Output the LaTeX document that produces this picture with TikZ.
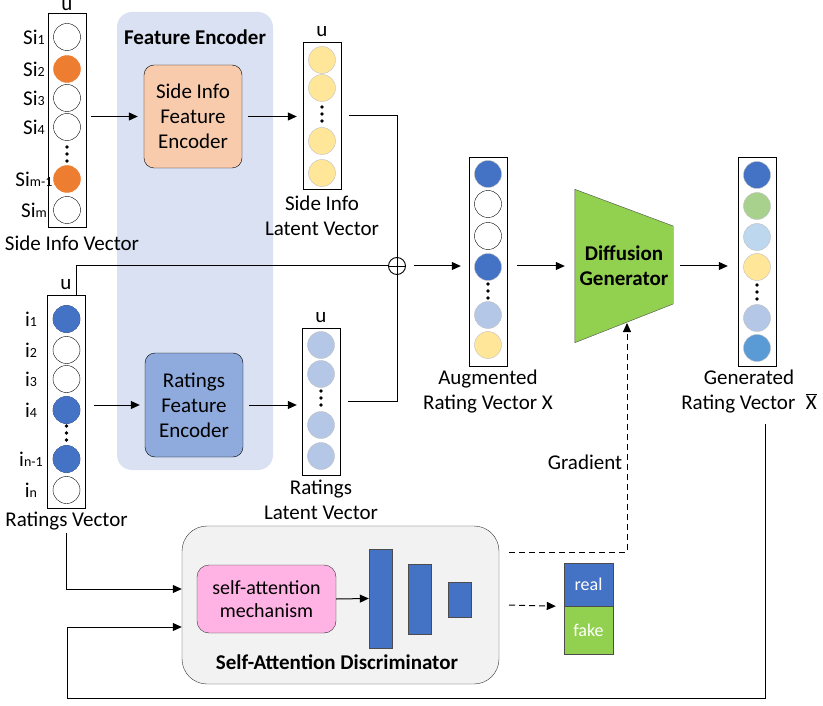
\documentclass[tikz,border=0pt]{standalone}
\usepackage{fontspec}
\setmainfont{Carlito}
\usetikzlibrary{arrows.meta, positioning}

\definecolor{feBg}{RGB}{218,225,242}
\definecolor{siEnc}{RGB}{248,203,173}
\definecolor{rtEnc}{RGB}{143,170,220}
\definecolor{oraDot}{RGB}{237,125,49}
\definecolor{bluDot}{RGB}{68,114,196}
\definecolor{lbluDot}{RGB}{180,199,231}
\definecolor{yelDot}{RGB}{255,230,153}
\definecolor{grnDot}{RGB}{169,209,142}
\definecolor{skyDot}{RGB}{189,215,238}
\definecolor{midDot}{RGB}{91,155,213}
\definecolor{genGrn}{RGB}{146,208,80}
\definecolor{discBg}{RGB}{242,242,242}
\definecolor{attnPink}{RGB}{255,179,228}
\definecolor{rimGray}{RGB}{191,191,191}

\newcommand{\subtxt}[1]{{\fontsize{14}{14}\selectfont #1}}

\begin{document}
\begin{tikzpicture}[x=1pt, y=-1pt, font=\fontsize{21}{25}\selectfont,
    vec/.style={draw, minimum width=38pt, inner sep=0pt},
    unit/.style={draw, circle, minimum size=27pt, inner sep=0pt},
    dots/.style={minimum width=6pt, minimum height=22pt, inner sep=0pt,
        path picture={\foreach \dy in {-7,0,7} \fill ([yshift=\dy pt]path picture bounding box.center) circle (1.9pt);}},
    enc/.style={draw, rounded corners=10pt, minimum width=98pt, minimum height=103pt, align=center},
    bar/.style={draw=black!70, fill=bluDot, inner sep=0pt, minimum width=23pt},
    arr/.style={arrows = {-Triangle[length=9pt, width=8pt]}, line width=1pt}]
    \useasboundingbox (0,0) rectangle (823,706);

    % Feature encoder background
    \node[fill=feBg, rounded corners=15pt, minimum width=156pt, minimum height=458pt] (febg) at (195,241) {};
    \node[font=\fontsize{21}{25}\selectfont\bfseries] (fetitle) at (195,37) {Feature Encoder};
    \node[enc, fill=siEnc] (sienc) at (193,116.5) {Side Info\\Feature\\Encoder};
    \node[enc, fill=rtEnc, minimum height=104pt] (rtenc) at (194,405) {Ratings\\Feature\\Encoder};

    % Side info vector
    \node[vec, minimum height=214pt] (sivec) at (67,120) {};
    \node[anchor=base] (siu) at (67,11) {u};
    \foreach \n/\y/\c/\d in {1/37/white/black, 2/69/oraDot/oraDot, 3/98/white/black, 4/127/white/black, 5/179/oraDot/oraDot, 6/210/white/black}
        \node[unit, fill=\c, draw=\d] (si\n) at (67,\y) {};
    \foreach \n/\y/\s in {1/37/1, 2/69/2, 3/98/3, 4/127/4, 5/179/m-1, 6/210/m}
        \node (silbl\n) at (34,\y) {Si\subtxt{\s}};
    \node[dots] (sidots) at (67,154) {};
    \node[below=5pt of sivec, xshift=5pt] (sivlbl) {Side Info Vector};

    % Ratings vector
    \node[vec, minimum height=213pt] (rtvec) at (66.5,401.5) {};
    \node[anchor=base] (rtu) at (66,289) {u};
    \foreach \n/\y/\c in {1/319/bluDot, 2/350/white, 3/379/white, 4/410/bluDot, 5/459/bluDot, 6/490/white}
        \node[unit, fill=\c, draw=black] (rt\n) at (66.5,\y) {};
    \foreach \n in {1,4,5}
        \node[unit, fill=bluDot, draw=bluDot] at (rt\n) {};
    \foreach \n/\y/\s in {1/319/1, 2/350/2, 3/379/3, 4/410/4, 5/459/n-1, 6/490/n}
        \node (rtlbl\n) at (31,\y) {i\subtxt{\s}};
    \node[dots] (rtdots) at (66.5,433) {};
    \node[below=0pt of rtvec] (rtvlbl) {Ratings Vector};

    % Latent vectors
    \node[vec, minimum height=147pt] (silat) at (322,115.5) {};
    \node[anchor=base] (silatu) at (322,37) {u};
    \foreach \n/\y in {1/60, 2/88, 3/141, 4/173}
        \node[unit, fill=yelDot, draw=rimGray] (sl\n) at (322,\y) {};
    \node[dots] (sldots) at (322,114) {};
    \node[below=3pt of silat, align=center] (silatlbl) {Side Info\\Latent Vector};

    \node[vec, minimum height=147pt] (rtlat) at (321,401.5) {};
    \node[anchor=base] (rtlatu) at (321,323) {u};
    \foreach \n/\y in {1/345, 2/374, 3/425, 4/456}
        \node[unit, fill=lbluDot, draw=rimGray] (rl\n) at (321,\y) {};
    \node[dots] (rldots) at (321,398) {};
    \node[below=1pt of rtlat, align=center] (rtlatlbl) {Ratings\\Latent Vector};

    % Augmented vector
    \node[vec, minimum height=209pt] (aug) at (488,261.5) {};
    \foreach \n/\y/\c/\d in {1/174/bluDot/rimGray, 2/204/white/black, 3/236/white/black, 4/267/bluDot/rimGray, 5/315/lbluDot/rimGray, 6/345/yelDot/rimGray}
        \node[unit, fill=\c, draw=\d] (ag\n) at (488,\y) {};
    \node[dots] (agdots) at (488,291) {};
    \node[below=0pt of aug, align=center] (auglbl) {Augmented\\Rating Vector X};

    % Diffusion generator
    \node[minimum width=98pt, minimum height=153pt, inner sep=0pt] (gen) at (624,266) {};
    \draw[fill=genGrn, draw=black!70] (gen.north west) -- ([yshift=40pt]gen.east) -- ([yshift=-38pt]gen.east) -- (gen.south west) -- cycle;
    \node[font=\fontsize{21}{25}\selectfont\bfseries, align=center] (gentxt) at (gen) {Diffusion\\Generator};
    \coordinate (gtip) at (627,323);

    % Generated vector
    \node[vec, minimum height=209pt] (genvec) at (757,261.5) {};
    \foreach \n/\y/\c in {1/175/bluDot, 2/206/grnDot, 3/237/skyDot, 4/267/yelDot, 5/318/lbluDot, 6/348/midDot}
        \node[unit, fill=\c, draw=rimGray] (gv\n) at (757,\y) {};
    \node[dots] (gvdots) at (757,292) {};
    \node[below=0pt of genvec, xshift=-8pt, align=center] (genlbl) {Generated\\Rating Vector\enspace$\overline{\hbox{X}}$};

    % Discriminator
    \node[draw=black!80, fill=discBg, rounded corners=25pt, minimum width=317pt, minimum height=158pt] (disc) at (340.5,605) {};
    \node[font=\fontsize{21}{25}\selectfont\bfseries] (disctitle) at (337,662) {Self-Attention Discriminator};
    \node[draw=black!80, fill=attnPink, rounded corners=12pt, minimum width=139pt, minimum height=68pt, align=center,
          font=\fontsize{20}{23}\selectfont] (attn) at (266.5,599) {self-attention\\mechanism};
    \node[bar, minimum height=99pt] (b1) at (380.5,598.5) {};
    \node[bar, minimum height=70pt] (b2) at (420,599) {};
    \node[bar, minimum height=35pt] (b3) at (460,599.5) {};

    % Real / fake
    \node[draw=black!70, fill=bluDot, text=white, minimum width=49pt, minimum height=43pt, font=\fontsize{18}{20}\selectfont] (real) at (588.5,584.5) {real};
    \node[draw=black!70, fill=genGrn, text=white, minimum width=49pt, minimum height=48pt, below=0pt of real, font=\fontsize{18}{20}\selectfont] (fake) {fake};

    % Connections
    \draw[arr, shorten <=5pt, shorten >=6pt] (sivec.east |- sienc.west) -- (sienc.west);
    \draw[arr, shorten <=6pt, shorten >=6pt] (sienc.east) -- (sienc.east -| silat.west);
    \draw[arr, shorten <=8pt, shorten >=5pt] (rtvec.east |- rtenc.west) -- (rtenc.west);
    \draw[arr, shorten <=6pt, shorten >=5pt] (rtenc.east) -- (rtenc.east -| rtlat.west);
    \draw[line width=1pt, shorten <=8pt] (silat.east) -| (397,266);
    \draw[line width=1pt, shorten <=8pt] (rtlat.east) -| (397,266);
    \draw[line width=1pt] ([xshift=10pt]rtvec.north) |- (397,266);
    \node[draw, circle, minimum size=17pt, inner sep=0pt, fill=white, line width=0.9pt,
          path picture={\draw (path picture bounding box.north) -- (path picture bounding box.south)
                              (path picture bounding box.west) -- (path picture bounding box.east);}] (plus) at (397,266) {};
    \draw[arr, shorten <=8pt, shorten >=8pt] (plus.east) -- (aug.west |- plus.east);
    \draw[arr, shorten <=10pt, shorten >=10pt] (aug.east |- gen.west) -- (gen.west);
    \draw[arr, shorten <=7pt, shorten >=10pt] (gen.east) -- (genvec.west |- gen.east);
    \draw[arr] (attn.east) -- (b1.west);
    \draw[arr] (rtvlbl.south) |- ([yshift=16pt]disc.west);
    \coordinate (fbtop) at (765,424);
    \coordinate (fbcorner) at (67,698);
    \draw[arr] (fbtop) |- (fbcorner) |- ([yshift=-22pt]disc.west);
    \draw[arr, dashed, dash pattern=on 6pt off 4pt] ([xshift=10pt, yshift=53pt]disc.east) -| (gtip);
    \node (gradlbl) at (585,462) {Gradient};
    \draw[arr, dashed, dash pattern=on 6pt off 4pt] ([xshift=10pt]disc.east) -- ([xshift=-8pt]real.south west);
\end{tikzpicture}
\end{document}
